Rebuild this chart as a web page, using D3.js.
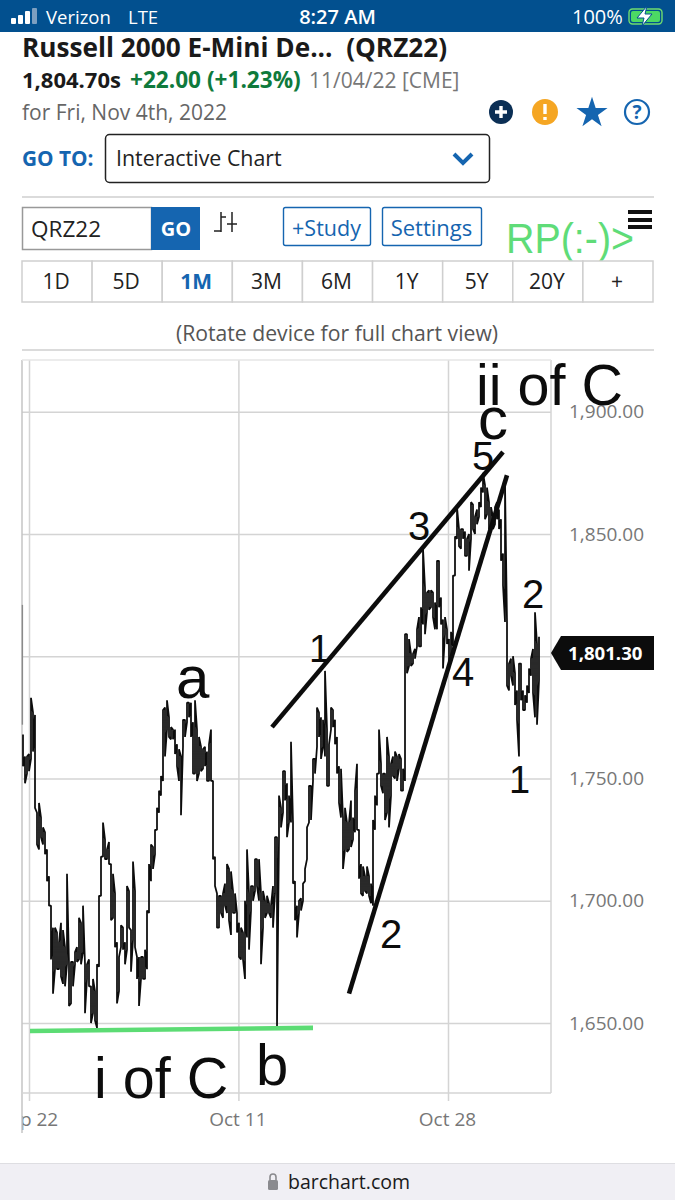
<!DOCTYPE html>
<html><head><meta charset="utf-8">
<style>html,body{margin:0;padding:0;background:#fff}svg{display:block}text{font-family:"Open Sans",sans-serif}</style>
<script src="https://cdn.jsdelivr.net/npm/d3@7"></script>
</head><body><svg id="c" width="675" height="1200"></svg>
<script>
// Session bars (high and low of each bar, in index points)
const barHighs=[1768,1759,1759,1760,1783,1777,1776,1736,1740,1734,1730,1728,1721,1710,1698,1689,1689,1687,1683,1691,1688,1681,1711,1674,1675,1675,1679,1681,1693,1691,1698,1674,1674,1676,1665,1668,1663,1674,1702,1718,1732,1725,1721,1724,1715,1711,1703,1683,1677,1690,1689,1683,1706,1704,1688,1716,1704,1677,1677,1677,1677,1680,1696,1715,
1723,1722,1729,1738,1745,1751,1778,1779,1782,1775,1771,1770,1770,1764,1762,1759,1774,1774,1781,1781,1781,1773,1782,1770,1767,1763,1762,1763,1761,1764,1770,1749,1718,1703,1702,1702,1703,1707,1715,1713,1712,1704,1703,1695,1691,1689,1687,1700,1721,1703,1706,1706,1717,1717,1717,1703,1704,1700,1702,1699,1698,1706,1726,1726,1743,1738,1753,1753,1748,1743,1765,1732,1708,1698,1700,1701,1707,1713,1730,1747,1747,1758,1758,1779,1777,
1775,1774,1794,1770,1764,1779,1778,1774,1767,1755,1754,1734,1738,1732,1732,1741,1734,1745,1756,1729,1715,1714,1710,1714,1710,1707,1733,1743,1752,1770,1756,1752,1752,1767,1759,1756,1759,1761,1759,1760,1758,1754,1809,1809,1807,1801,1801,1803,1811,1816,1820,1844,1828,1826,1827,1827,1826,1822,1839,1839,1824,1815,1816,1811,1807,
1810,1833,1849,1861,1852,1852,1852,1851,1848,1850,1863,1862,1857,1860,1863,1869,1875,1870,1869,1863,1861,1857,1861,1863,1860,1856,1842,1871,1814,1797,1799,1800,1793,1786,1797,1797,1786,1784,1788,1795,1799,1803,1818,1805,1808];
const barLows=[1755,1748,1752,1753,1758,1761,1738,1723,1721,1726,1723,1719,1708,1698,1676,1662,1672,1672,1672,1669,1666,1665,1674,1657,1658,1665,1674,1675,1676,1674,1679,1654,1668,1665,1650,1654,1651,1648,1673,1702,1718,1717,1717,1715,1692,1693,1681,1658,1663,1681,1680,1674,1680,1689,1671,1684,1681,1668,1657,1668,1668,1668,1672,1695,
1708,1713,1719,1729,1736,1743,1749,1759,1770,1767,1766,1766,1760,1755,1749,1735,1763,1767,1773,1775,1767,1752,1752,1749,1752,1753,1754,1755,1749,1749,1749,1717,1706,1689,1689,1695,1693,1698,1695,1692,1686,1695,1695,1687,1677,1676,1676,1668,1685,1680,1696,1700,1704,1706,1700,1674,1689,1693,1695,1695,1693,1689,1703,1648,1726,1730,1736,1741,1726,1732,1732,1707,1692,1685,1695,1696,1700,1708,1717,1732,1733,1749,1752,1763,1767,
1758,1763,1759,1747,1747,1770,1771,1764,1752,1740,1734,1713,1721,1720,1721,1722,1725,1728,1729,1709,1703,1702,1704,1703,1702,1699,1698,1729,1739,1752,1747,1744,1733,1736,1730,1743,1751,1750,1749,1754,1745,1745,1749,1793,1796,1796,1797,1799,1804,1804,1804,1813,1809,1818,1819,1820,1816,1811,1811,1820,1813,1795,1809,1805,1797,
1800,1804,1833,1848,1845,1844,1848,1841,1841,1835,1848,1852,1850,1854,1857,1861,1867,1856,1858,1852,1852,1852,1854,1856,1852,1839,1829,1814,1788,1786,1792,1788,1780,1774,1759,1782,1778,1778,1781,1785,1792,1785,1775,1772,1790];
const firstPrint=[1821,1772];
const lastPrice=1801.30;
const priceGrid=[1650,1700,1750,1800,1850,1900];
const priceLabels=["1,650.00","1,700.00","1,750.00","","1,850.00","1,900.00"];
const dateBars=[3,107.7,212.5];
const dateLabels=["Sep 22","Oct 11","Oct 28"];
const upperTrend=[[124.5,1771],[240,1883.5]];
const lowerTrend=[[163,1662],[242,1874]];
const supportLine=[[3.5,1646.7],[145,1648]];
const waveLabels=[["ii of C",476,405,57.5],["c",478,439,60],["5",472,470,40],["3",408,540,40],["1",309,662,38],["a",176,698,60],["2",522,608,40],["4",452,686,40],["2",380,948,40],["1",509,793,38],["i of C",94,1098,57.5],["b",256,1085,58]];
const ranges=["1D","5D","1M","3M","6M","1Y","5Y","20Y","+"];

const svg=d3.select("#c");
const BLUE="#1565b0",RULE="#cfcfcf",GRID="#d4d4d4";
function T(s,x,y,o={}){const t=svg.append("text").attr("x",x).attr("y",y).attr("xml:space","preserve").style("white-space","pre")
 .attr("font-size",o.size||16).attr("font-weight",o.weight||400).attr("fill",o.fill||"#111").attr("text-anchor",o.anchor||"start").text(s);
 if(o.family)t.style("font-family",o.family);
 if(o.len)t.attr("textLength",o.len).attr("lengthAdjust","spacingAndGlyphs");return t;}

// status bar
svg.append("rect").attr("width",675).attr("height",32).attr("fill","#02508f");
[[11,6],[18,9],[25,13],[32,16]].forEach(([x,h],i)=>svg.append("rect").attr("x",x).attr("y",24-h).attr("width",5).attr("height",h).attr("rx",1).attr("fill",i==3?"#7d9fc0":"#fff"));
T("Verizon",46,24,{size:18.5,fill:"#fff"});T("LTE",128,24,{size:18.5,fill:"#fff"});
T("8:27 AM",337.5,24,{size:20,fill:"#fff",anchor:"middle",weight:600});
T("100%",572,24,{size:20,fill:"#fff"});
svg.append("rect").attr("x",629).attr("y",9).attr("width",33).attr("height",15).attr("rx",3.5).attr("fill","none").attr("stroke","#6fdc6f").attr("stroke-width",1.4);
svg.append("rect").attr("x",631).attr("y",11).attr("width",29).attr("height",11).attr("rx",2).attr("fill","#4cd964");
svg.append("path").attr("d","M647 6L637 18H644L642 26L652 14H645Z").attr("fill","#fff").attr("stroke","#02508f").attr("stroke-width",1);

// header
T("Russell 2000 E-Mini De...  (QRZ22)",22,57,{size:26.2,weight:700,fill:"#1a1a1a"});
T("1,804.70s",22,88,{size:22,weight:700,fill:"#1a1a1a"});
T("+22.00 (+1.23%)",130,88,{size:22.6,weight:700,fill:"#0f7a3c"});
T("11/04/22 [CME]",309,88,{size:21,fill:"#777"});
T("for Fri, Nov 4th, 2022",22,120,{size:21,fill:"#666"});
svg.append("circle").attr("cx",501).attr("cy",112).attr("r",12).attr("fill","#0b2f55");
svg.append("path").attr("d","M501 106V118M495 112H507").attr("stroke","#fff").attr("stroke-width",3.4);
svg.append("circle").attr("cx",545).attr("cy",112).attr("r",13).attr("fill","#f5a623");
svg.append("path").attr("d","M545 104V114M545 117V120").attr("stroke","#fff").attr("stroke-width",3.4);
svg.append("path").attr("d",d3.symbol(d3.symbolStar,300)()).attr("transform","translate(592,113)").attr("fill",BLUE);
svg.append("circle").attr("cx",637).attr("cy",112).attr("r",12).attr("fill","none").attr("stroke",BLUE).attr("stroke-width",2.2);
T("?",637,119,{size:19,weight:700,fill:BLUE,anchor:"middle"});

// go to
T("GO TO:",22,166,{size:20.8,weight:700,fill:BLUE});
svg.append("rect").attr("x",105.5).attr("y",134.5).attr("width",384).attr("height",48).attr("rx",4).attr("fill","#fff").attr("stroke","#222").attr("stroke-width",1.5);
T("Interactive Chart",116,166,{size:21.4,fill:"#222"});
svg.append("path").attr("d","M454 154L463 163L472 154").attr("fill","none").attr("stroke",BLUE).attr("stroke-width",4);
svg.append("line").attr("x1",22).attr("x2",654).attr("y1",197).attr("y2",197).attr("stroke",RULE).attr("stroke-width",1.5);

// toolbar
svg.append("rect").attr("x",22.5).attr("y",207.5).attr("width",129).attr("height",42).attr("fill","#fff").attr("stroke","#999").attr("stroke-width",1.5);
T("QRZ22",31,237,{size:22.5,fill:"#222"});
svg.append("rect").attr("x",151).attr("y",207).attr("width",49).attr("height",43).attr("fill",BLUE);
T("GO",176,236,{size:20,weight:700,fill:"#fff",anchor:"middle"});
svg.append("path").attr("d","M214 231H221M221 212V232M221 217H226M232 212V232M232 224H237M227 224H232").attr("fill","none").attr("stroke","#222").attr("stroke-width",1.5);
[[283,87,"+Study",21.5],[382,99,"Settings",22]].forEach(([x,w,s,fs])=>{
 svg.append("rect").attr("x",x+.5).attr("y",207.5).attr("width",w).attr("height",38).attr("rx",2).attr("fill","#fff").attr("stroke",BLUE).attr("stroke-width",1.4);
 T(s,x+w/2,236,{size:fs,fill:BLUE,anchor:"middle"});});
T("RP(:-)>",506,253,{size:43,fill:"#5fdc78",family:"Liberation Sans",len:128});
[211,219,226].forEach(y=>svg.append("rect").attr("x",628).attr("y",y-1).attr("width",24).attr("height",4).attr("fill","#111"));

// range buttons
const cellX=d3.scaleBand().domain(ranges).range([22,653]);
svg.append("g").selectAll("g").data(ranges).join("g").each(function(d){
 const g=d3.select(this);
 g.append("rect").attr("x",cellX(d)).attr("y",261).attr("width",cellX.bandwidth()).attr("height",41).attr("fill","#fff").attr("stroke",RULE).attr("stroke-width",1.5);
 g.append("text").attr("x",cellX(d)+cellX.bandwidth()/2-1).attr("y",289).attr("text-anchor","middle").attr("font-size",21)
  .attr("font-weight",d=="1M"?700:400).attr("fill",d=="1M"?BLUE:"#222").text(d);});
T("(Rotate device for full chart view)",337,341,{size:21.2,fill:"#555",anchor:"middle"});
svg.append("line").attr("x1",22).attr("x2",654).attr("y1",350).attr("y2",350).attr("stroke",RULE).attr("stroke-width",1.5);

// chart
const x=d3.scaleLinear().domain([0,barHighs.length-1]).range([23,539]);
const y=d3.scaleLinear().domain([1650,1900]).range([1023,411.7]);
const L=22,R=551,TOP=360,BOT=1093;
const yAxis=d3.axisRight(y).tickValues(priceGrid).tickFormat((d,i)=>priceLabels[i]).tickSize(R-L).tickPadding(18);
const gy=svg.append("g").attr("transform",`translate(${L},0)`).call(yAxis);
gy.select(".domain").remove();
gy.selectAll("line").attr("stroke",GRID).attr("stroke-width",1.5);
gy.selectAll("text").attr("font-size",19).attr("fill","#777").style("font-family",'"Open Sans"');
gy.selectAll("text").filter(function(){return !this.textContent;}).remove();
const xAxis=d3.axisBottom(x).tickValues(dateBars).tickFormat((d,i)=>dateLabels[i]).tickSize(BOT+8-TOP).tickPadding(12);
const gx=svg.append("g").attr("transform",`translate(-1,${TOP})`);
gx.call(xAxis);gx.select(".domain").remove();
gx.selectAll("line").attr("stroke",GRID).attr("stroke-width",1.5).attr("transform","translate(1,0)");
gx.selectAll("text").attr("font-size",19).attr("fill","#777").style("font-family",'"Open Sans"');
// the first date label is cut off by the left edge of the panel
svg.append("rect").attr("x",0).attr("y",1095).attr("width",L).attr("height",60).attr("fill","#fff");
// frame
const frame=svg.append("g").attr("stroke",GRID).attr("stroke-width",1.5);
frame.append("line").attr("x1",L).attr("x2",L).attr("y1",TOP).attr("y2",1133).attr("stroke","#c4c4c4");
frame.append("line").attr("x1",R).attr("x2",R).attr("y1",TOP).attr("y2",BOT);
frame.append("line").attr("x1",L).attr("x2",R).attr("y1",BOT).attr("y2",BOT);
frame.append("line").attr("x1",L).attr("x2",R).attr("y1",TOP).attr("y2",TOP).attr("stroke","#e6e6e6");

// price trace
const verts=[];barHighs.forEach((h,i)=>{const l=barLows[i],p=verts.length?verts[verts.length-1][1]:h;
 if(Math.abs(p-h)<=Math.abs(p-l)){verts.push([i,h],[i,l]);}else{verts.push([i,l],[i,h]);}});
const line=d3.line().x(d=>x(d[0])).y(d=>y(d[1]));
svg.append("path").datum(firstPrint.map(v=>[-0.3,v])).attr("d",line).attr("stroke","#8a8a8a").attr("stroke-width",1.4).attr("fill","none");
svg.append("path").datum(verts).attr("d",line).attr("fill","none").attr("stroke","#0c0c0c").attr("stroke-width",1.75).attr("stroke-linejoin","bevel");

// drawn-on trend lines
[upperTrend,lowerTrend].forEach(t=>svg.append("path").datum(t).attr("d",line).attr("stroke","#0c0c0c").attr("stroke-width",4.6).attr("fill","none"));
svg.append("path").datum(supportLine).attr("d",line).attr("stroke","#5cdc74").attr("stroke-width",4.6).attr("fill","none");
waveLabels.forEach(([s,px,py,size])=>T(s,px,py,{size,fill:"#0c0c0c",family:"Liberation Sans"}));

// last price flag
const ly=y(lastPrice);
svg.append("path").attr("d",d3.line()([[551,ly],[561,ly-17],[654,ly-17],[654,ly+17],[561,ly+17]])+"Z").attr("fill","#0c0c0c");
T(d3.format(",.2f")(lastPrice),568,ly+6.5,{size:18.6,weight:700,fill:"#fff"});

// footer
svg.append("rect").attr("y",1163).attr("width",675).attr("height",37).attr("fill","#f0eff4");
svg.append("line").attr("x1",0).attr("x2",675).attr("y1",1163.5).attr("y2",1163.5).attr("stroke","#dedee2");
T("barchart.com",288,1189,{size:19.5,fill:"#1a1a1a"});
svg.append("rect").attr("x",268).attr("y",1180).attr("width",10).attr("height",10).attr("rx",1.5).attr("fill","#8a8a8e");
svg.append("path").attr("d","M270 1180V1177A3 3 0 0 1 276 1177V1180").attr("fill","none").attr("stroke","#8a8a8e").attr("stroke-width",1.6);
</script></body></html>
